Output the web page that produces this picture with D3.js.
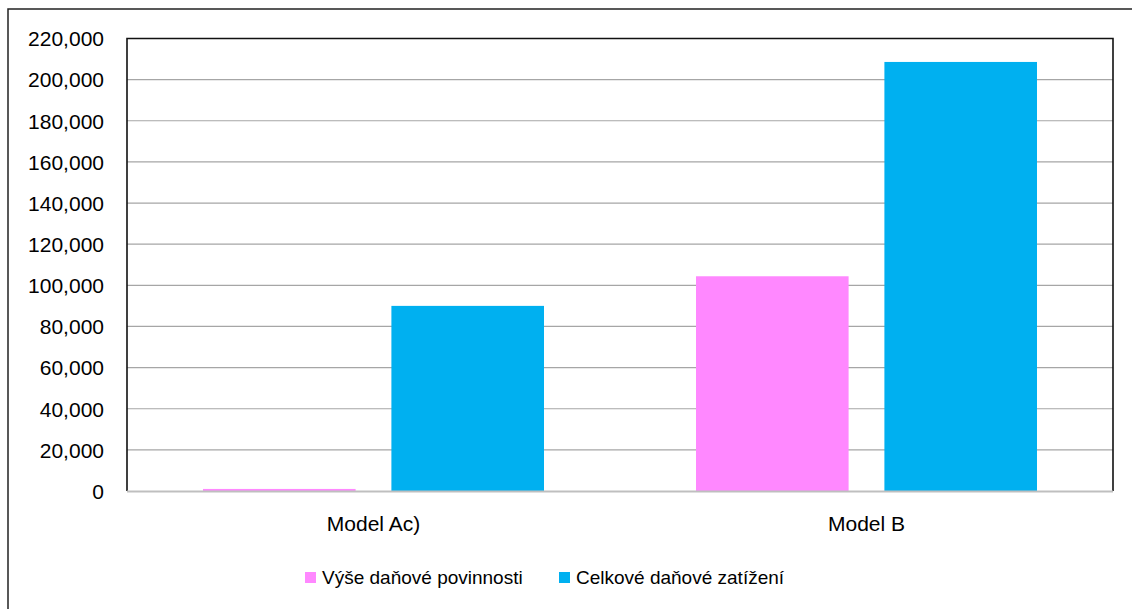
<!DOCTYPE html>
<html><head><meta charset="utf-8">
<script src="https://cdn.jsdelivr.net/npm/d3@7"></script>
<style>body{margin:0;background:#fff}svg{display:block}text{font-family:"Liberation Sans",Arial,sans-serif;fill:#000}</style>
</head><body>
<svg id="c" width="1132" height="609"></svg>
<script>
const categories = ["Model Ac)", "Model B"];
const seriesNames = ["Výše daňové povinnosti", "Celkové daňové zatížení"];
const seriesColors = ["#ff88ff", "#00b0f0"];
const vyseDanovePovinnosti = [1000, 104400];
const celkoveDanoveZatizeni = [90000, 208600];
const yTicks = [0, 20000, 40000, 60000, 80000, 100000, 120000, 140000, 160000, 180000, 200000, 220000];

const svg = d3.select("#c");
const m = {l:127, t:38.5, r:1113, b:491};
// outer frame
svg.append("rect").attr("x",8).attr("y",9).attr("width",1140).attr("height",620)
  .attr("fill","none").attr("stroke","#222").attr("stroke-width",1.5);

const y = d3.scaleLinear().domain([0,220000]).range([m.b,m.t]);
const x0 = d3.scaleBand().domain(categories).range([m.l,m.r]);
const x1 = d3.scaleBand().domain(seriesNames).range([76,493-76]).paddingInner(0.19);

// gridlines
svg.append("g").selectAll("line").data(yTicks.filter(d=>d>0)).join("line")
  .attr("x1",m.l).attr("x2",m.r).attr("y1",d=>y(d)).attr("y2",d=>y(d))
  .attr("stroke","#a6a6a6").attr("stroke-width",1.2);

const data = categories.map((c,i)=>({c, vals:[vyseDanovePovinnosti[i], celkoveDanoveZatizeni[i]]}));
const g = svg.append("g");
data.forEach(d=>{
  d.vals.forEach((v,j)=>{
    g.append("rect").attr("x",x0(d.c)+x1(seriesNames[j])).attr("width",x1.bandwidth())
      .attr("y",y(v)).attr("height",m.b-y(v)).attr("fill",seriesColors[j]);
  });
});

// frame: black left/top/right, grey bottom
svg.append("path").attr("d",`M${m.l},${m.b}V${m.t}H${m.r}V${m.b}`).attr("fill","none")
  .attr("stroke","#111").attr("stroke-width",1.6);
svg.append("line").attr("x1",m.l).attr("x2",m.r).attr("y1",m.b+0.5).attr("y2",m.b+0.5)
  .attr("stroke","#bfbfbf").attr("stroke-width",2);

// y axis labels
const yAxis = d3.axisLeft(y).tickValues(yTicks).tickSize(0).tickPadding(23)
  .tickFormat(d3.format(","));
const ya = svg.append("g").attr("transform",`translate(${m.l},0)`).call(yAxis);
ya.select(".domain").remove();
ya.selectAll("text").style("font-size","21px").attr("font-family",null).attr("dy","0.35em");

// x axis labels
const xAxis = d3.axisBottom(x0).tickSize(0).tickPadding(0);
const xa = svg.append("g").attr("transform",`translate(0,${m.b})`).call(xAxis);
xa.select(".domain").remove();
xa.selectAll("text").style("font-size","21px").attr("font-family",null).attr("dy",null).attr("y",40);

// legend
const leg = [{x:305, tx:322},{x:559, tx:576}];
seriesNames.forEach((s,j)=>{
  svg.append("rect").attr("x",leg[j].x).attr("y",572).attr("width",11).attr("height",11).attr("fill",seriesColors[j]);
  svg.append("text").attr("x",leg[j].tx).attr("y",584).style("font-size","19px").text(s);
});
</script>
</body></html>
